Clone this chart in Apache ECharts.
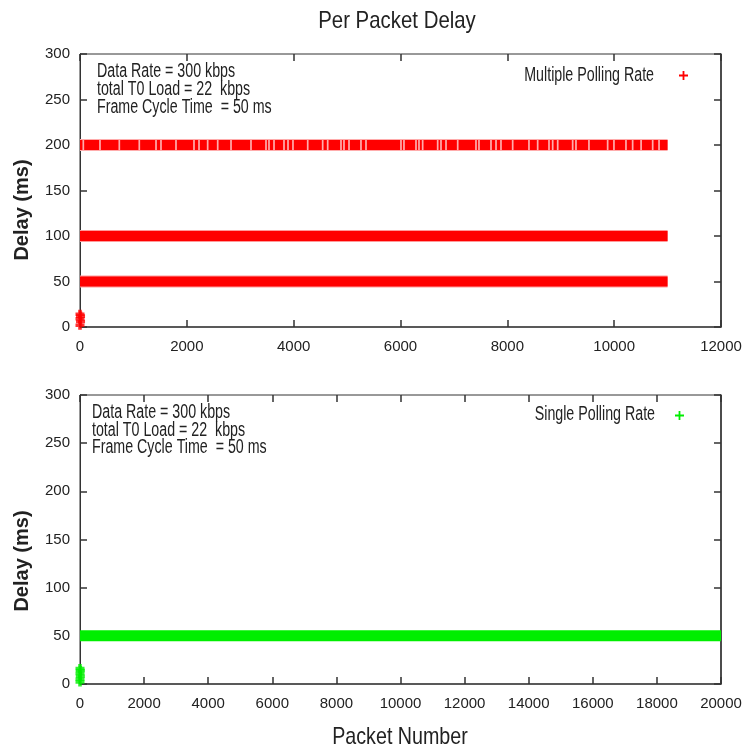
<!DOCTYPE html>
<html>
<head>
<meta charset="utf-8">
<script src="https://cdn.jsdelivr.net/npm/echarts@6/dist/echarts.min.js"></script>
<style>
  html, body { margin: 0; padding: 0; background: #fff; }
  #chart { width: 745px; height: 753px; }
</style>
</head>
<body>
<div id="chart"></div>
<script>
// ---- data ----
const delayTicks = [0, 50, 100, 150, 200, 250, 300];
const packetTicksTop = [0, 2000, 4000, 6000, 8000, 10000, 12000];
const packetTicksBottom = [0, 2000, 4000, 6000, 8000, 10000, 12000, 14000, 16000, 18000, 20000];

// Multiple polling rate: packets fall into delay levels (ms)
const multiDenseDelays = [50, 100];
const multiLastPacket = 11000;
const multiSparseDelay = 200;
// packet numbers where the 200 ms level has no samples
const multiSparseGaps = [62, 374, 736, 1110, 1423, 1516, 1797, 2134, 2228, 2390, 2578,
  2827, 3201, 3482, 3538, 3632, 3819, 3894, 3987, 4263, 4543, 4637, 4886, 4942, 5036,
  5260, 5354, 6009, 6065, 6290, 6346, 6415, 6696, 6758, 6852, 7071, 7413, 7469, 7694,
  7788, 7881, 8100, 8405, 8568, 8780, 8849, 8943, 9223, 9285, 9528, 9878, 9996, 10221,
  10346, 10504, 10721, 10840];
// first packets with small delays
const multiLow = [[0, 2], [10, 6], [0, 9], [10, 12], [0, 14]];

// Single polling rate
const singleDelay = 50;
const singleLastPacket = 20000;
const singleLow = [[0, 2], [0, 5], [10, 8], [0, 11], [10, 14], [0, 16]];

const noteLines = ['Data Rate = 300 kbps', 'total T0 Load = 22  kbps', 'Frame Cycle Time  = 50 ms'];

// ---- helpers ----
const RED = '#ff0000';
const GREEN = '#00ee00';
const PLUS = 'path://M4,0h2v4h4v2h-4v4h-2v-4h-4v-2h4z';
const BLOCK_PLUS = 'path://M3,0h4v3h3v4h-3v3h-4v-3h-3v-4h3z';
const SANS = '"Liberation Sans", Arial, sans-serif';
const INK = '#222';

function band(delay, first, last) {
  return [[first, delay], [last, delay]];
}
// split a level into runs separated by the gap packets
function sparseBand(delay, first, last, gaps, halfGap) {
  const out = [];
  let start = first;
  gaps.forEach(g => {
    out.push([start, delay], [g - halfGap, delay], '-');
    start = g + halfGap;
  });
  out.push([start, delay], [last, delay]);
  return out;
}

function lineSeries(name, data, color, width, xi, yi, z) {
  return {
    name: name, type: 'line', xAxisIndex: xi, yAxisIndex: yi,
    data: data, symbol: 'none', connectNulls: false, z: z || 2,
    lineStyle: { color: color, width: width, cap: 'butt' },
    itemStyle: { color: color },
    silent: true, animation: false
  };
}

const tickStyle = { show: true, inside: true, length: 7, lineStyle: { color: '#333', width: 1.5 } };
const plainNumber = v => String(v);

function xAxes(ticks, gridIndex) {
  const min = ticks[0], max = ticks[ticks.length - 1], interval = ticks[1] - ticks[0];
  const bottom = {
    type: 'value', gridIndex: gridIndex, position: 'bottom', min: min, max: max, interval: interval,
    axisLine: { show: true, onZero: false, lineStyle: { color: '#444', width: 1.5 } },
    axisTick: tickStyle,
    axisLabel: { fontFamily: SANS, fontSize: 15, color: INK, margin: 12, formatter: plainNumber },
    splitLine: { show: false }
  };
  const top = {
    type: 'value', gridIndex: gridIndex, position: 'top', min: min, max: max, interval: interval,
    axisLine: { show: false, onZero: false },
    axisTick: tickStyle,
    axisLabel: { show: false }, splitLine: { show: false }
  };
  return [bottom, top];
}

function yAxes(ticks, gridIndex) {
  const min = ticks[0], max = ticks[ticks.length - 1], interval = ticks[1] - ticks[0];
  const left = {
    type: 'value', gridIndex: gridIndex, position: 'left', min: min, max: max, interval: interval,
    axisLine: { show: true, onZero: false, lineStyle: { color: '#333', width: 1 } },
    axisTick: tickStyle,
    axisLabel: { fontFamily: SANS, fontSize: 15, color: INK, margin: 10, formatter: plainNumber },
    splitLine: { show: false }
  };
  const right = {
    type: 'value', gridIndex: gridIndex, position: 'right', min: min, max: max, interval: interval,
    axisLine: { show: true, onZero: false, lineStyle: { color: '#333', width: 1.5 } },
    axisTick: tickStyle,
    axisLabel: { show: false }, splitLine: { show: false }
  };
  return [left, right];
}

// condensed text: regular face squeezed horizontally
function narrowText(text, x, y, size, sx, align) {
  return {
    type: 'text', x: x, y: y, scaleX: sx, scaleY: 1, silent: true,
    style: { text: text, fontFamily: SANS, fontSize: size, fill: INK, align: align || 'left', verticalAlign: 'middle' }
  };
}

const chart = echarts.init(document.getElementById('chart'), null, { renderer: 'canvas' });

const series = [];
// top panel: 200 ms level (light underlay + sampled runs)
series.push(lineSeries('sparse underlay', band(multiSparseDelay, 0, multiLastPacket), '#ffacac', 12, 0, 0, 1));
series.push(lineSeries('Multiple Polling Rate', sparseBand(multiSparseDelay, 0, multiLastPacket, multiSparseGaps, 16), RED, 10, 0, 0, 2));
multiDenseDelays.forEach(d => {
  series.push(lineSeries('dense underlay', band(d, 0, multiLastPacket), '#ff9a9a', 12, 0, 0, 1));
  series.push(lineSeries('Multiple Polling Rate', band(d, 0, multiLastPacket), RED, 10, 0, 0, 2));
});
series.push({
  name: 'Multiple Polling Rate', type: 'scatter', xAxisIndex: 0, yAxisIndex: 0,
  data: multiLow, symbol: BLOCK_PLUS, symbolSize: 9, itemStyle: { color: RED }, animation: false
});
// bottom panel
series.push(lineSeries('Single Polling Rate', band(singleDelay, 0, singleLastPacket), GREEN, 11, 2, 2, 2));
series.push({
  name: 'Single Polling Rate', type: 'scatter', xAxisIndex: 2, yAxisIndex: 2,
  data: singleLow, symbol: BLOCK_PLUS, symbolSize: 9, itemStyle: { color: GREEN }, animation: false
});

const graphics = [];
noteLines.forEach((t, i) => {
  graphics.push(narrowText(t, 97, 72 + i * 18, 19.5, 0.73));
  graphics.push(narrowText(t, 92, 413 + i * 17.5, 19.5, 0.73));
});
graphics.push(narrowText('Multiple Polling Rate', 654, 76, 19.5, 0.73, 'right'));
graphics.push(narrowText('Single Polling Rate', 655, 415, 19.5, 0.73, 'right'));
graphics.push(narrowText('Per Packet Delay', 397, 21, 24, 0.85, 'center'));
graphics.push(narrowText('Packet Number', 400, 737, 24, 0.82, 'center'));
[210, 561].forEach(cy => {
  graphics.push({
    type: 'text', x: 22, y: cy, rotation: Math.PI / 2, silent: true,
    style: { text: 'Delay (ms)', fontFamily: SANS, fontSize: 20, fontWeight: 'bold', fill: INK, align: 'center', verticalAlign: 'middle' }
  });
});

chart.setOption({
  backgroundColor: '#fff',
  animation: false,
  grid: [
    { left: 80, right: 24, top: 54, height: 273, show: true, borderColor: '#333', borderWidth: 1 },
    { left: 80, right: 24, top: 395, height: 289, show: true, borderColor: '#333', borderWidth: 1 }
  ],
  xAxis: [...xAxes(packetTicksTop, 0), ...xAxes(packetTicksBottom, 1)],
  yAxis: [...yAxes(delayTicks, 0), ...yAxes(delayTicks, 1)],
  legend: [
    {
      data: ['Multiple Polling Rate'], right: 52, top: 66, align: 'right', icon: PLUS,
      itemWidth: 9, itemHeight: 9, selectedMode: false, formatter: () => '',
      textStyle: { fontSize: 1 }
    },
    {
      data: ['Single Polling Rate'], right: 56, top: 406, align: 'right', icon: PLUS,
      itemWidth: 9, itemHeight: 9, selectedMode: false, formatter: () => '',
      textStyle: { fontSize: 1 }
    }
  ],
  graphic: graphics,
  series: series
});
</script>
</body>
</html>
